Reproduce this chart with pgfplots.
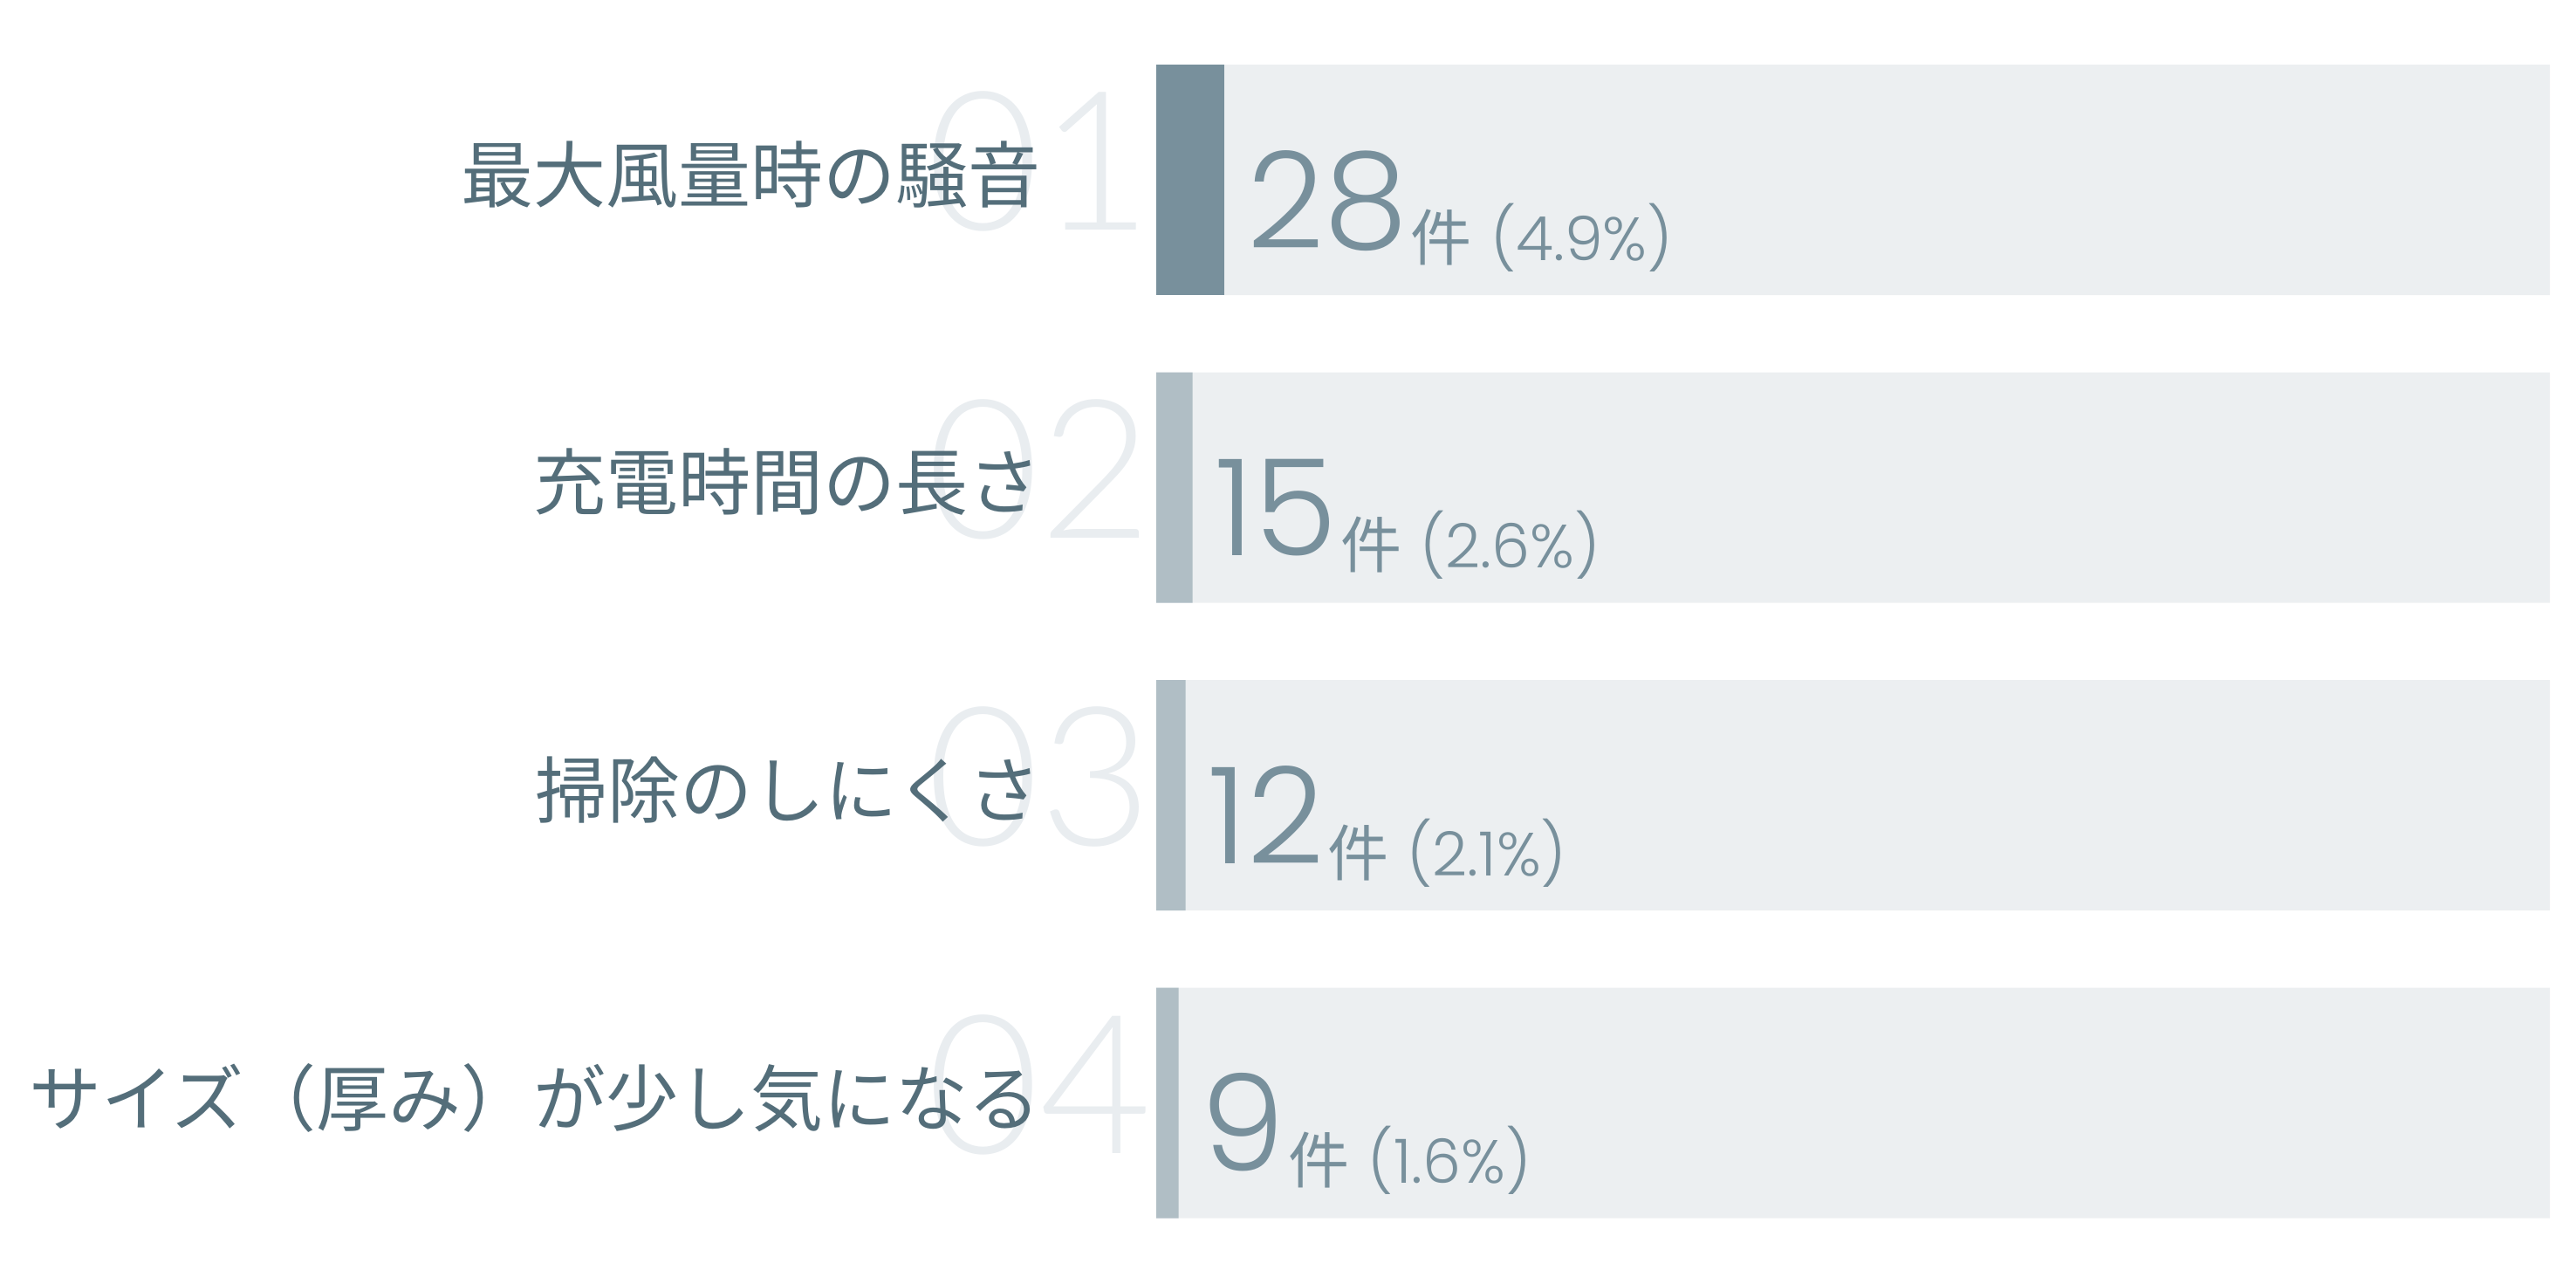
\documentclass[border=0pt]{standalone}
\usepackage{fontspec}
\usepackage{pgfplots}
\pgfplotsset{compat=1.18}
\newfontfamily\jp{Noto Sans CJK JP}
\IfFontExistsTF{Poppins Light}{\newfontfamily\numfont{Poppins Light}}{\newfontfamily\numfont{Poppins}}
\IfFontExistsTF{Lato Light}{\newfontfamily\bigfont{Lato Light}}{\newfontfamily\bigfont{Lato}}
\definecolor{bg}{HTML}{ECEFF1}
\definecolor{dark}{HTML}{78909C}
\definecolor{light}{HTML}{B0BEC5}
\definecolor{lab}{HTML}{546E7A}
\definecolor{bignum}{HTML}{E9EDF0}
\begin{document}
\begin{tikzpicture}
\useasboundingbox (0,0) rectangle (738pt,367.5pt);
\begin{axis}[
  at={(331.25pt,7.56pt)}, anchor=south west,
  scale only axis, width=399.25pt, height=352.5pt,
  xmin=0, xmax=100, ymin=0.5, ymax=4.5, y dir=reverse,
  hide axis, clip=false,
  xbar, bar width=66pt,
  point meta=explicit symbolic,
  visualization depends on={x \as \xval},
  nodes near coords={{\numfont\fontsize{38.4}{40}\selectfont\pgfplotspointmeta}\hspace{1pt}\raisebox{-3.5pt}{\fontsize{17.5}{18}\selectfont{\jp 件} {\numfont(\pgfmathprintnumber[fixed,precision=1,fixed zerofill,assume math mode=true]{\xval}\%)}}},
  every node near coord/.append style={anchor=base west, inner sep=0pt, xshift=6.3pt, yshift=-19.5pt, text=dark},
]
\addplot[fill=bg, draw=none, bar shift=0pt, nodes near coords={}] coordinates {(100,1) [] (100,2) [] (100,3) [] (100,4) []};
\node[anchor=west, inner sep=0pt, text=bignum, font=\bigfont\fontsize{55.5}{56}\selectfont, xshift=-65.8pt, yshift=5.25pt] at (axis cs:0,1) {01};
\node[anchor=west, inner sep=0pt, text=bignum, font=\bigfont\fontsize{55.5}{56}\selectfont, xshift=-65.8pt, yshift=5.25pt] at (axis cs:0,2) {02};
\node[anchor=west, inner sep=0pt, text=bignum, font=\bigfont\fontsize{55.5}{56}\selectfont, xshift=-65.8pt, yshift=5.25pt] at (axis cs:0,3) {03};
\node[anchor=west, inner sep=0pt, text=bignum, font=\bigfont\fontsize{55.5}{56}\selectfont, xshift=-65.8pt, yshift=5.25pt] at (axis cs:0,4) {04};
\node[anchor=east, inner sep=0pt, text=lab, font=\jp\fontsize{20.75}{21}\selectfont, xshift=-32.9pt, yshift=1.5pt] at (axis cs:0,1) {最大風量時の騒音};
\node[anchor=east, inner sep=0pt, text=lab, font=\jp\fontsize{20.75}{21}\selectfont, xshift=-32.9pt, yshift=1.5pt] at (axis cs:0,2) {充電時間の長さ};
\node[anchor=east, inner sep=0pt, text=lab, font=\jp\fontsize{20.75}{21}\selectfont, xshift=-32.9pt, yshift=1.5pt] at (axis cs:0,3) {掃除のしにくさ};
\node[anchor=east, inner sep=0pt, text=lab, font=\jp\fontsize{20.75}{21}\selectfont, xshift=-32.9pt, yshift=1.5pt] at (axis cs:0,4) {サイズ（厚み）が少し気になる};
\addplot[fill=dark, draw=none, bar shift=0pt] coordinates {(4.9,1) [28]};
\addplot[fill=light, draw=none, bar shift=0pt] coordinates {(2.6,2) [15] (2.1,3) [12] (1.6,4) [9]};
\end{axis}
\end{tikzpicture}
\end{document}
